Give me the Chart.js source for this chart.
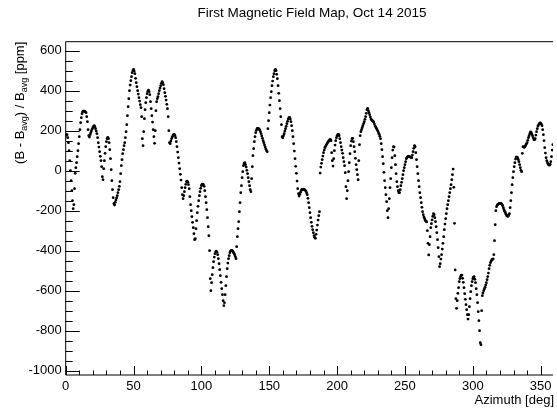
<!DOCTYPE html>
<html>
<head>
<meta charset="utf-8">
<script src="https://cdn.jsdelivr.net/npm/chart.js@4/dist/chart.umd.min.js"></script>
<style>
  html, body { margin: 0; padding: 0; background: #fff; }
  #wrap { width: 557px; height: 410px; }
</style>
</head>
<body>
<div id="wrap"><canvas id="fieldChart" width="557" height="410"></canvas></div>
<script>
// Field map values, one point every 0.5 deg of azimuth (ppm)
const azimuthStep = 0.5;
const quadrant1 = [ // 0 - 89.5 deg
  175, 180, 180, 165, 140, 100, 50, 0, -50, -100, -150, -190, -170, -90, -13, 15, 40, 70, 100, 135,
  170, 205, 240, 265, 285, 295, 298, 298, 297, 294, 290, 270, 245, 205, 175, 168, 180, 190, 200, 208,
  215, 222, 225, 220, 210, 198, 185, 165, 140, 118, 95, 72, 50, 20, -30, -45, 10, 50, 87, 120,
  145, 160, 167, 160, 140, 105, 60, 5, -50, -95, -135, -165, -172, -158, -147, -136, -125, -110, -95, -78,
  -55, -15, 25, 55, 85, 105, 125, 140, 165, 195, 230, 275, 320, 360, 400, 428, 450, 470, 490, 500,
  507, 498, 485, 462, 440, 420, 400, 383, 365, 348, 330, 315, 270, 160, 125, 195, 260, 305, 340, 365,
  385, 397, 403, 395, 380, 345, 310, 275, 243, 205, 170, 137, 200, 300, 345, 360, 370, 385, 400, 413,
  425, 437, 445, 440, 430, 410, 390, 372, 353, 332, 310, 270, 200, 140, 135, 148, 160, 168, 175, 180,
  182, 176, 165, 145, 120, 93, 65, 38, 10, -18, -47, -85, -120, -140, -125, -105, -85, -68, -55, -52
];
const quadrant2 = [ // 90 - 179.5 deg
  -58, -70, -90, -130, -170, -200, -230, -258, -285, -315, -345, -340, -290, -250, -210, -178, -150, -125, -105, -88,
  -75, -68, -67, -70, -78, -100, -130, -160, -195, -235, -280, -325, -400, -540, -600, -560, -520, -485, -455, -432,
  -415, -406, -402, -408, -420, -440, -465, -495, -525, -558, -590, -620, -650, -675, -660, -620, -575, -530, -490, -462,
  -440, -425, -410, -402, -398, -399, -402, -407, -413, -420, -430, -440, -380, -330, -290, -255, -205, -160, -110, -75,
  -35, -5, 25, 36, 40, 30, 18, 2, -15, -35, -55, -75, -95, -105, -40, 20, 75, 110, 145, 170,
  190, 202, 210, 212, 212, 208, 203, 195, 185, 174, 162, 150, 140, 129, 118, 108, 100, 95, 210, 250,
  290, 328, 365, 395, 425, 448, 470, 485, 500, 507, 500, 482, 460, 425, 387, 350, 310, 270, 230, 170,
  165, 175, 185, 198, 210, 222, 235, 247, 258, 265, 267, 258, 245, 225, 200, 170, 135, 98, 60, 22,
  -13, -52, -90, -115, -127, -118, -108, -100, -95, -93, -92, -93, -95, -98, -102, -110, -120, -138, -160, -185
];
const quadrant3 = [ // 180 - 269.5 deg
  -210, -235, -258, -278, -295, -310, -325, -333, -338, -318, -297, -272, -247, -225, -205, -12, 18, 37, 55, 73,
  90, 103, 115, 122, 128, 134, 140, 145, 150, 154, 157, 150, 90, 50, 23, 60, 100, 128, 150, 165,
  175, 180, 182, 175, 160, 140, 120, 103, 87, 65, 45, 25, -10, -80, -140, -100, -50, -5, 40, 85,
  125, 148, 160, 162, 145, 120, 95, 62, 30, 5, -20, -45, 50, 130, 175, 195, 205, 215, 225, 235,
  245, 257, 270, 287, 305, 311, 300, 290, 280, 268, 258, 253, 250, 247, 243, 233, 223, 218, 212, 205,
  198, 190, 182, 172, 160, 135, 105, 70, 35, -8, -50, -85, -120, -155, -200, -235, -190, -140, -85, -40,
  15, 65, 103, 120, 118, 75, 30, -15, -55, -80, -100, -110, -110, -95, -75, -58, -40, -20, 0, 15,
  30, 45, 60, 66, 70, 72, 72, 70, 68, 66, 65, 78, 95, 112, 125, 120, 90, 55, 20, -15,
  -50, -80, -110, -135, -160, -183, -205, -220, -232, -240, -248, -253, -256, -300, -363, -421, -370, -330, -285, -265
];
const quadrant4 = [ // 270 - 359 deg
  -246, -228, -215, -220, -235, -255, -280, -310, -345, -385, -430, -480, -465, -442, -420, -392, -363, -330, -295, -267,
  -240, -215, -190, -170, -150, -130, -110, -90, -70, -45, -20, 8, -83, -263, -496, -640, -688, -650, -613, -585,
  -555, -540, -530, -523, -522, -538, -558, -585, -615, -643, -670, -695, -720, -742, -720, -680, -640, -605, -575, -555,
  -540, -532, -530, -543, -560, -590, -620, -660, -705, -750, -800, -860, -870, -700, -625, -612, -600, -592, -583, -572,
  -560, -545, -530, -512, -490, -473, -460, -452, -446, -443, -441, -420, -350, -270, -200, -180, -172, -168, -166, -164,
  -163, -163, -165, -169, -175, -185, -195, -203, -210, -218, -225, -228, -228, -222, -215, -185, -150, -110, -70, -35,
  -5, 20, 40, 58, 68, 68, 65, 56, 45, 30, 15, 2, -5, 87, 120, 118, 117, 122, 128, 134,
  140, 152, 165, 175, 185, 194, 192, 183, 175, 165, 155, 155, 160, 178, 195, 210, 223, 230, 235, 239,
  238, 233, 225, 205, 180, 150, 115, 88, 65, 50, 40, 33, 28, 28, 32, 45, 70, 103, 130
];
const fieldPpm = quadrant1.concat(quadrant2, quadrant3, quadrant4);

const xTickLabels = [0, 50, 100, 150, 200, 250, 300, 350];
const yTickLabels = [-1000, -800, -600, -400, -200, 0, 200, 400, 600];

const points = fieldPpm.map((v, i) => ({ x: i * azimuthStep, y: v }));

const FONT = '"Liberation Sans", Arial, Helvetica, sans-serif';

// ROOT-like frame, ticks and titles
const rootFrame = {
    id: 'rootFrame',
    afterDraw(chart) {
        const ctx = chart.ctx;
        const area = chart.chartArea;
        const xs = chart.scales.x;
        const ys = chart.scales.y;
        ctx.save();
        ctx.strokeStyle = '#000';
        ctx.fillStyle = '#000';
        ctx.lineWidth = 1;

        // frame
        ctx.beginPath();
        ctx.moveTo(area.left, area.top);
        ctx.lineTo(area.right, area.top);
        ctx.moveTo(area.left, area.top);
        ctx.lineTo(area.left, area.bottom);
        ctx.lineTo(area.right, area.bottom);
        ctx.stroke();

        // x ticks (inside, pointing up)
        ctx.beginPath();
        for (let d = 0; d <= xs.max; d += 10) {
            const px = Math.round(xs.getPixelForValue(d)) + 0.5;
            const len = d % 50 === 0 ? 9 : 4.5;
            ctx.moveTo(px, area.bottom);
            ctx.lineTo(px, area.bottom - len);
        }
        // y ticks (inside, pointing right)
        for (let v = -1000; v <= ys.max; v += 50) {
            const py = Math.round(ys.getPixelForValue(v)) + 0.5;
            const len = v % 200 === 0 ? 14 : 7;
            ctx.moveTo(area.left, py);
            ctx.lineTo(area.left + len, py);
        }
        ctx.stroke();

        // tick labels
        ctx.font = '13px ' + FONT;
        ctx.textAlign = 'center';
        ctx.textBaseline = 'alphabetic';
        xTickLabels.forEach(d => {
            ctx.fillText(String(d), xs.getPixelForValue(d), 390);
        });
        ctx.textAlign = 'right';
        ctx.textBaseline = 'middle';
        yTickLabels.forEach(v => {
            ctx.fillText(String(v), area.left - 4, ys.getPixelForValue(v));
        });

        // x title
        ctx.textAlign = 'right';
        ctx.textBaseline = 'alphabetic';
        ctx.fillText('Azimuth [deg]', 554, 404);

        // y title with subscripts, right aligned at top of frame
        const parts = [
            ['(B - B', false], ['avg', true], [') / B', false], ['avg', true], [' [ppm]', false]
        ];
        const mainFont = '13px ' + FONT;
        const subFont = '9px ' + FONT;
        let total = 0;
        parts.forEach(p => {
            ctx.font = p[1] ? subFont : mainFont;
            total += ctx.measureText(p[0]).width;
        });
        ctx.translate(24, area.top);
        ctx.rotate(-Math.PI / 2);
        ctx.textAlign = 'left';
        let pos = -total;
        parts.forEach(p => {
            ctx.font = p[1] ? subFont : mainFont;
            ctx.fillText(p[0], pos, p[1] ? 3 : 0);
            pos += ctx.measureText(p[0]).width;
        });
        ctx.restore();

        // chart title
        ctx.save();
        ctx.font = '13.5px ' + FONT;
        ctx.fillStyle = '#000';
        ctx.textAlign = 'center';
        ctx.textBaseline = 'alphabetic';
        ctx.fillText('First Magnetic Field Map, Oct 14 2015', 312, 17);
        ctx.restore();
    }
};

const ctxField = document.getElementById('fieldChart').getContext('2d');
const fieldChart = new Chart(ctxField, {
    type: 'scatter',
    data: {
        datasets: [{
            label: 'B field',
            data: points,
            showLine: false,
            pointRadius: 1.4,
            pointBorderWidth: 0,
            pointBackgroundColor: '#000',
            pointBorderColor: '#000'
        }]
    },
    options: {
        responsive: false,
        animation: false,
        devicePixelRatio: 1,
        layout: { padding: { left: 65.7, right: 0, top: 41.7, bottom: 35 } },
        plugins: {
            legend: { display: false },
            tooltip: { enabled: false }
        },
        scales: {
            x: { type: 'linear', min: 0, max: 359.1, display: false },
            y: { type: 'linear', min: -1021.5, max: 645, display: false }
        }
    },
    plugins: [rootFrame]
});
</script>
</body>
</html>
